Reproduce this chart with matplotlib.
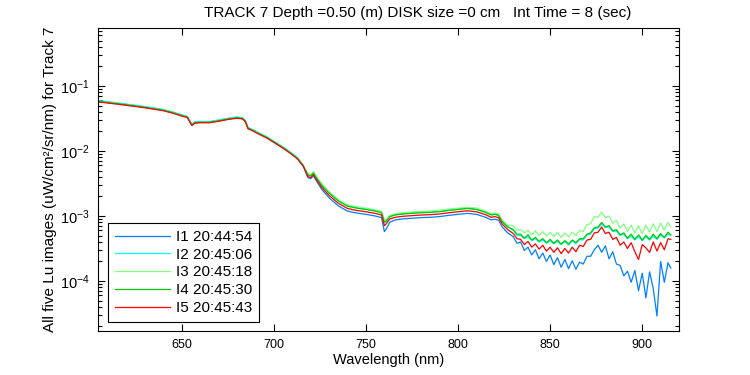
import numpy as np
import matplotlib
matplotlib.use("Agg")
import matplotlib.pyplot as plt
from matplotlib.ticker import FixedLocator, LogLocator, NullFormatter

plt.rcParams['font.family'] = ['Liberation Sans', 'DejaVu Sans']

# Wavelength samples (nm)
wavelength = [605, 610, 615, 620, 625, 630, 635, 640, 645, 650,
              653, 655.5, 657, 660, 665, 670, 675, 680, 683, 684.5,
              686, 688, 692, 696, 700, 705, 710, 713, 716, 718.5,
              720, 721.5, 723, 726, 730, 735, 740, 745, 750, 755,
              758.5, 760, 761, 763, 766, 770, 775, 780, 785, 790,
              795, 800, 805, 810, 815, 818, 820, 822, 824, 827,
              830, 832, 834, 836, 838, 840, 842, 844, 846, 848,
              850, 852, 854, 856, 858, 860, 862, 864, 866, 868,
              870, 872, 874, 876, 878, 880, 882, 884, 886, 888,
              890, 892, 894, 896, 898, 900, 902, 904, 906, 908,
              910, 912, 914, 915.5]

# log10 of Lu (uW/cm^2/sr/nm) for each image
I1_log10 = [-1.233, -1.250, -1.267, -1.285, -1.303, -1.323, -1.345, -1.368, -1.405, -1.450,
            -1.473, -1.605, -1.560, -1.553, -1.553, -1.530, -1.503, -1.483, -1.495, -1.535,
            -1.655, -1.670, -1.730, -1.785, -1.855, -1.945, -2.045, -2.115, -2.230, -2.410,
            -2.425, -2.385, -2.455, -2.590, -2.720, -2.845, -2.925, -2.955, -2.975, -3.000,
            -3.025, -3.240, -3.200, -3.095, -3.060, -3.045, -3.035, -3.025, -3.020, -3.010,
            -2.990, -2.975, -2.960, -2.975, -3.020, -3.060, -3.050, -3.065, -3.170, -3.260,
            -3.32, -3.42, -3.40, -3.53, -3.48, -3.60, -3.52, -3.66, -3.57, -3.70,
            -3.60, -3.75, -3.64, -3.79, -3.67, -3.81, -3.69, -3.82, -3.71, -3.74,
            -3.62, -3.62, -3.52, -3.45, -3.56, -3.46, -3.66, -3.55, -3.74, -3.76,
            -3.92, -3.85, -4.02, -3.84, -4.15, -3.88, -4.26, -3.86, -4.12, -4.54,
            -3.70, -4.02, -3.72, -3.80]

I2_log10 = [-1.226, -1.243, -1.260, -1.278, -1.296, -1.316, -1.338, -1.361, -1.398, -1.443,
            -1.466, -1.590, -1.553, -1.546, -1.546, -1.523, -1.496, -1.476, -1.488, -1.528,
            -1.640, -1.663, -1.723, -1.778, -1.848, -1.938, -2.038, -2.108, -2.218, -2.360,
            -2.378, -2.333, -2.400, -2.522, -2.642, -2.762, -2.843, -2.873, -2.893, -2.918,
            -2.943, -3.095, -3.073, -3.003, -2.978, -2.963, -2.953, -2.943, -2.938, -2.928,
            -2.908, -2.893, -2.878, -2.893, -2.938, -2.978, -2.968, -2.983, -3.083, -3.165,
            -3.22, -3.30, -3.30, -3.35, -3.32, -3.38, -3.35, -3.40, -3.37, -3.42,
            -3.38, -3.43, -3.39, -3.44, -3.39, -3.45, -3.38, -3.43, -3.36, -3.37,
            -3.29, -3.28, -3.19, -3.19, -3.12, -3.18, -3.17, -3.24, -3.23, -3.30,
            -3.28, -3.35, -3.31, -3.37, -3.32, -3.38, -3.32, -3.37, -3.31, -3.36,
            -3.29, -3.34, -3.28, -3.30]

I3_log10 = [-1.238, -1.255, -1.272, -1.290, -1.308, -1.328, -1.350, -1.373, -1.410, -1.455,
            -1.478, -1.600, -1.565, -1.558, -1.558, -1.535, -1.508, -1.488, -1.500, -1.540,
            -1.650, -1.675, -1.735, -1.790, -1.860, -1.950, -2.050, -2.120, -2.230, -2.350,
            -2.365, -2.315, -2.385, -2.505, -2.625, -2.748, -2.830, -2.858, -2.880, -2.905,
            -2.930, -3.060, -3.055, -2.990, -2.965, -2.950, -2.938, -2.930, -2.925, -2.912,
            -2.895, -2.880, -2.868, -2.878, -2.925, -2.965, -2.955, -2.968, -3.065, -3.140,
            -3.15, -3.22, -3.21, -3.26, -3.22, -3.29, -3.23, -3.30, -3.24, -3.31,
            -3.25, -3.32, -3.25, -3.33, -3.26, -3.32, -3.25, -3.30, -3.22, -3.24,
            -3.13, -3.12, -3.01, -3.02, -2.94, -3.03, -3.00, -3.11, -3.07, -3.19,
            -3.12, -3.24, -3.14, -3.26, -3.15, -3.27, -3.14, -3.25, -3.12, -3.24,
            -3.11, -3.22, -3.10, -3.17]

I4_log10 = [-1.238, -1.255, -1.272, -1.290, -1.308, -1.328, -1.350, -1.373, -1.410, -1.455,
            -1.478, -1.600, -1.565, -1.558, -1.558, -1.535, -1.508, -1.488, -1.500, -1.540,
            -1.650, -1.675, -1.735, -1.790, -1.860, -1.950, -2.050, -2.120, -2.230, -2.370,
            -2.385, -2.340, -2.410, -2.530, -2.650, -2.770, -2.850, -2.880, -2.900, -2.925,
            -2.950, -3.100, -3.080, -3.010, -2.985, -2.970, -2.960, -2.950, -2.945, -2.935,
            -2.915, -2.900, -2.885, -2.900, -2.945, -2.985, -2.975, -2.990, -3.090, -3.170,
            -3.21, -3.28, -3.28, -3.34, -3.29, -3.37, -3.33, -3.39, -3.35, -3.41,
            -3.36, -3.42, -3.37, -3.43, -3.38, -3.43, -3.37, -3.41, -3.35, -3.35,
            -3.28, -3.26, -3.18, -3.17, -3.10, -3.17, -3.15, -3.23, -3.21, -3.29,
            -3.26, -3.34, -3.28, -3.36, -3.29, -3.37, -3.30, -3.36, -3.28, -3.35,
            -3.27, -3.33, -3.25, -3.29]

I5_log10 = [-1.246, -1.263, -1.280, -1.298, -1.316, -1.336, -1.358, -1.381, -1.418, -1.463,
            -1.486, -1.608, -1.573, -1.566, -1.566, -1.543, -1.516, -1.496, -1.508, -1.548,
            -1.658, -1.683, -1.743, -1.798, -1.868, -1.958, -2.058, -2.128, -2.238, -2.395,
            -2.410, -2.365, -2.435, -2.560, -2.685, -2.805, -2.885, -2.915, -2.935, -2.960,
            -2.985, -3.150, -3.120, -3.045, -3.020, -3.005, -2.995, -2.985, -2.980, -2.970,
            -2.950, -2.935, -2.920, -2.935, -2.980, -3.020, -3.010, -3.025, -3.125, -3.210,
            -3.27, -3.35, -3.36, -3.44, -3.39, -3.48, -3.43, -3.51, -3.45, -3.54,
            -3.48, -3.56, -3.49, -3.58, -3.50, -3.57, -3.48, -3.55, -3.45, -3.47,
            -3.37, -3.36, -3.26, -3.25, -3.17, -3.27, -3.25, -3.36, -3.33, -3.45,
            -3.40, -3.50, -3.41, -3.55, -3.67, -3.44, -3.49, -3.56, -3.40, -3.54,
            -3.41, -3.52, -3.35, -3.36]

series_labels = ["I1 20:44:54", "I2 20:45:06", "I3 20:45:18", "I4 20:45:30", "I5 20:45:43"]
series_colors = ["#0080ff", "#00ffff", "#80ff80", "#00c800", "#ff0000"]
series_data = [I1_log10, I2_log10, I3_log10, I4_log10, I5_log10]

title_text = "TRACK 7 Depth =0.50 (m) DISK size =0 cm   Int Time = 8 (sec)"
xlabel_text = "Wavelength (nm)"
ylabel_text = "All five Lu images (uW/cm\u00b2/sr/nm) for Track 7"
xticks = [650, 700, 750, 800, 850, 900]
yticks = [1e-4, 1e-3, 1e-2, 1e-1]
ytick_labels = [r"$\mathregular{10^{-4}}$", r"$\mathregular{10^{-3}}$",
                r"$\mathregular{10^{-2}}$", r"$\mathregular{10^{-1}}$"]

fig = plt.figure(figsize=(7.5, 3.75), dpi=100)
ax = fig.add_axes([0.1311, 0.1173, 0.7743, 0.808])

wl = np.array(wavelength)
for vals, lab, col in zip(series_data, series_labels, series_colors):
    ax.plot(wl, 10.0 ** np.array(vals), color=col, lw=0.9, label=lab)

ax.set_yscale("log")
ax.set_xlim(604.7, 920)
ax.set_ylim(10 ** -4.77, 10 ** -0.108)

ax.set_xticks(xticks)
ax.set_xticklabels([str(t) for t in xticks], fontsize=9)
ax.yaxis.set_major_locator(FixedLocator(yticks))
ax.set_yticklabels(ytick_labels, fontsize=10.5)
ax.yaxis.set_minor_locator(LogLocator(base=10, subs=np.arange(2, 10)))
ax.yaxis.set_minor_formatter(NullFormatter())
ax.tick_params(axis="both", which="major", direction="in", length=5, width=0.8,
               top=True, right=True, pad=6)
ax.tick_params(axis="y", which="minor", direction="in", length=3, width=0.8,
               left=True, right=True)
for s in ax.spines.values():
    s.set_linewidth(0.8)

ax.set_xlabel(xlabel_text, fontsize=10.5, labelpad=1)
ax.set_ylabel(ylabel_text, fontsize=11, labelpad=2)
fig.text(418 / 750, 1 - 13 / 375, title_text, ha="center", va="center", fontsize=11)

leg = ax.legend(loc="lower left", bbox_to_anchor=(0.0172, 0.0297), borderaxespad=0,
                fontsize=11, fancybox=False, framealpha=1, edgecolor="black",
                handlelength=3.6, handletextpad=0.4, borderpad=0.45, labelspacing=0.25)
leg.get_frame().set_linewidth(0.8)

fig.savefig("out.png", dpi=100)
